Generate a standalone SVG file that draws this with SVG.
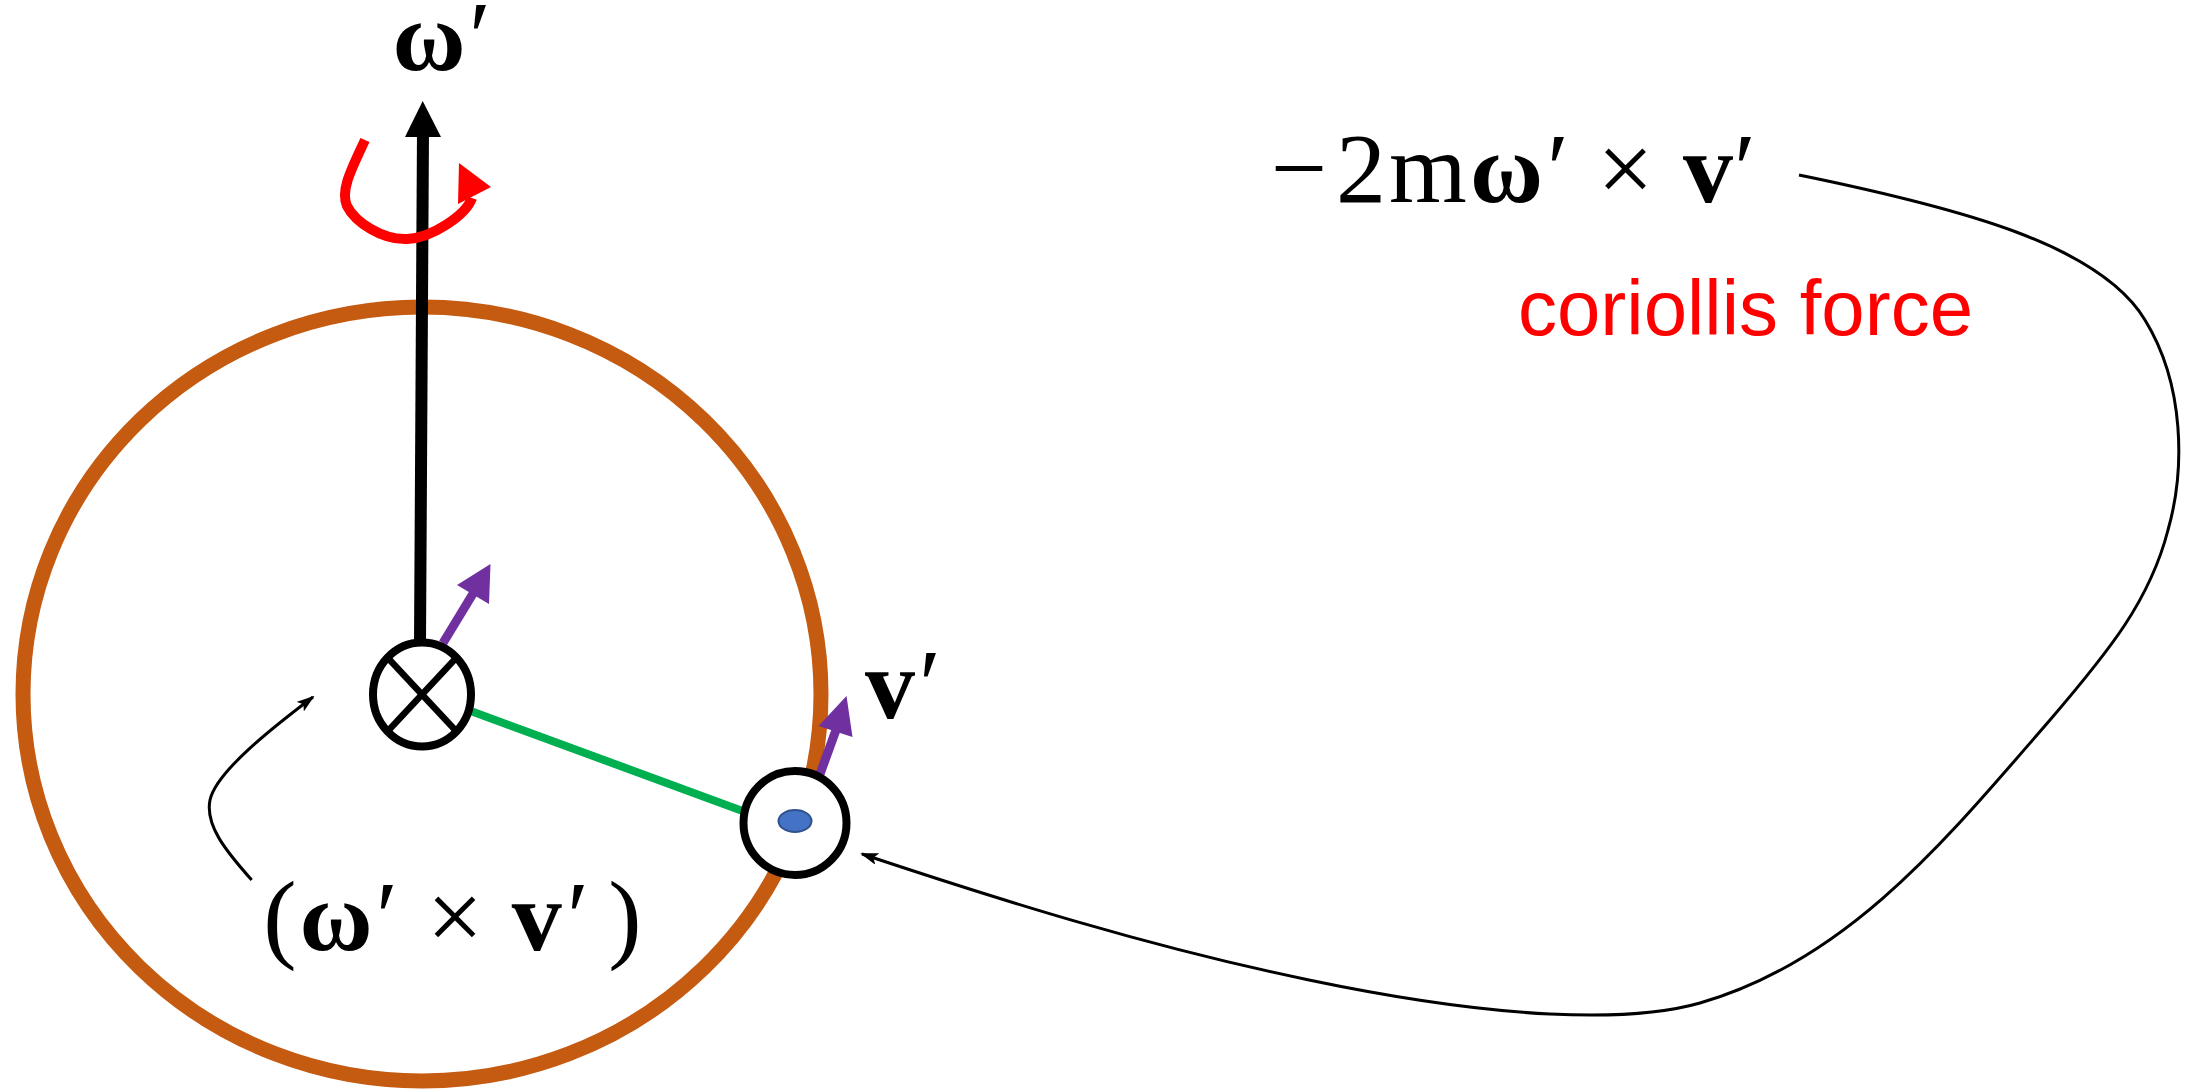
<svg xmlns="http://www.w3.org/2000/svg" width="2202" height="1092" viewBox="0 0 2202 1092">
<style>
.serif{font-family:"Liberation Serif","DejaVu Serif",serif;font-size:100px;fill:#000;text-anchor:middle}
.b{font-weight:bold}
.thin{fill:none;stroke:#000;stroke-width:3}
.purple{stroke:#7030A0;stroke-width:9;fill:none}
.ring{fill:#fff;stroke:#000;stroke-width:8}
</style>
<defs>
<marker id="ah" viewBox="0 0 18 12" markerWidth="18" markerHeight="12" refX="16" refY="6" orient="auto" markerUnits="userSpaceOnUse">
<path d="M0,0 L18,6 L0,12 L4,6 z" fill="#000"/>
</marker>
</defs>
<rect width="2202" height="1092" fill="#fff"/>
<g id="orbit">
<ellipse cx="422" cy="694" rx="399" ry="387" fill="none" stroke="#C55A11" stroke-width="15"/>
</g>
<g id="axis">
<line x1="420" y1="642" x2="423" y2="130" stroke="#000" stroke-width="12"/>
<polygon points="422.7,101 405,137 441,137" fill="#000"/>
</g>
<g id="rotation">
<path d="M365,140 C352,168 340,190 347,206 C355,222 382,240 407,239 C432,238 466,215 472,198" fill="none" stroke="#FF0000" stroke-width="10"/>
<polygon points="459,163 491,187 458,204" fill="#FF0000"/>
</g>
<g id="connectors">
<line x1="468" y1="710" x2="748" y2="813" stroke="#00B050" stroke-width="8"/>
<path class="thin" d="M251.7,880 C225,850 205,825 210,800 C216,772 272,728 313,697" marker-end="url(#ah)"/>
<path class="thin" d="M1799,175 C1960,208 2100,245 2145,320 C2185,385 2185,470 2168,530 C2150,600 2110,650 2050,720 C1950,835 1850,960 1700,1003 C1630,1023 1500,1020 1309,980 C1150,947 1000,900 862,854" marker-end="url(#ah)"/>
</g>
<g id="center">
<line class="purple" x1="443" y1="643" x2="474" y2="592"/>
<polygon points="490.5,564 457,585 489,604" fill="#7030A0"/>
<ellipse class="ring" cx="422" cy="694.5" rx="49" ry="52"/>
<line x1="387" y1="657" x2="457" y2="732" stroke="#000" stroke-width="6.5"/>
<line x1="457" y1="657" x2="387" y2="732" stroke="#000" stroke-width="6.5"/>
</g>
<g id="particle">
<line class="purple" x1="820" y1="774" x2="836" y2="730"/>
<polygon points="846.5,696 818.5,726 852.5,737" fill="#7030A0"/>
<ellipse class="ring" cx="795" cy="823" rx="51.5" ry="52"/>
<ellipse cx="795" cy="821" rx="16.5" ry="11" fill="#4472C4" stroke="#2F528F" stroke-width="2"/>
</g>
<g id="label-omega">
<text class="serif b" x="429" y="70">ω</text>
<text class="serif" x="480" y="70">′</text>
</g>
<g id="label-v">
<text class="serif b" x="890" y="718">v</text>
<text class="serif" x="930" y="718">′</text>
</g>
<g id="label-cross">
<text class="serif" x="280" y="950">(</text>
<text class="serif b" x="336" y="950">ω</text>
<text class="serif" x="387" y="950">′</text>
<text class="serif" x="455" y="950">×</text>
<text class="serif b" x="536.7" y="950">v</text>
<text class="serif" x="578" y="950">′</text>
<text class="serif" x="625" y="950">)</text>
</g>
<g id="label-coriolis">
<text class="serif" x="1299" y="202">−</text>
<text class="serif" x="1361" y="202">2</text>
<text class="serif" x="1428" y="202">m</text>
<text class="serif b" x="1506.5" y="202">ω</text>
<text class="serif" x="1558" y="202">′</text>
<text class="serif" x="1625.5" y="202">×</text>
<text class="serif b" x="1708" y="202">v</text>
<text class="serif" x="1745" y="202">′</text>
<text x="1518" y="335" font-family="'Liberation Sans',Arial,sans-serif" font-size="77" fill="#FF0000" textLength="455" lengthAdjust="spacingAndGlyphs">coriollis force</text>
</g>
</svg>
